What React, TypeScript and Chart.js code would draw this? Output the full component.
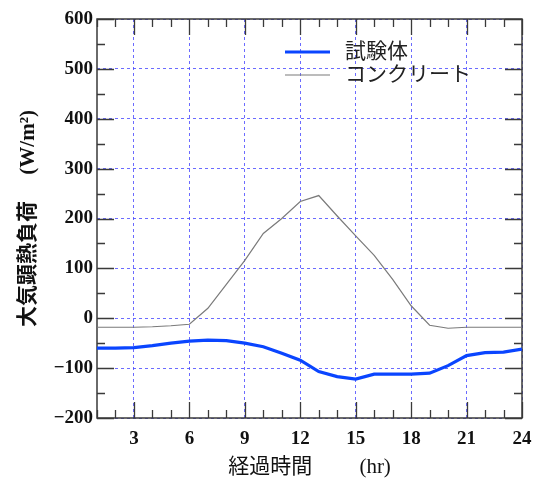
import React, { useEffect, useRef } from "react";
import { Chart, registerables } from "chart.js";

Chart.register(...registerables);

const HOURS = [1, 2, 3, 4, 5, 6, 7, 8, 9, 10, 11, 12, 13, 14, 15, 16, 17, 18, 19, 20, 21, 22, 23, 24];
const SPECIMEN = [-60, -60, -59, -55, -50, -46, -44, -45, -50, -57, -70, -84, -107, -117, -122, -112, -112, -112, -110, -95, -75, -69, -68, -62];
const CONCRETE = [-18, -18, -18, -17, -15, -12, 20, 68, 116, 170, 200, 234, 246, 205, 165, 126, 78, 25, -14, -20, -18, -18, -18, -18];
const X_TICKS = [3, 6, 9, 12, 15, 18, 21, 24];
const Y_MIN = -200;
const Y_MAX = 600;
const SERIES_NAMES = ["試験体", "コンクリート"];
const X_TITLE = "経過時間　　 (hr)";
const Y_TITLE = "大気顕熱負荷　 (W/m²)";

const BLUE = "#0a45ff";
const GRAY = "#7a7a7a";
const AXIS = "#3a3a3a";

const framePlugin = {
  id: "frameTicks",
  beforeDatasetsDraw(chart: any) {
    const { ctx, chartArea: a, scales } = chart;
    const xs = scales.x;
    const ys = scales.y;
    ctx.save();
    ctx.strokeStyle = AXIS;
    ctx.lineWidth = 1.3;
    ctx.beginPath();
    for (let v = Y_MIN; v <= Y_MAX; v += 50) {
      const y = Math.round(ys.getPixelForValue(v)) + 0.5;
      const len = v % 100 === 0 ? 17 : 8;
      ctx.moveTo(a.left, y);
      ctx.lineTo(a.left + len, y);
      ctx.moveTo(a.right, y);
      ctx.lineTo(a.right - len, y);
    }
    for (let h = 1; h <= 24; h++) {
      const x = Math.round(xs.getPixelForValue(h)) + 0.5;
      const len = h % 3 === 0 ? 16 : 8;
      ctx.moveTo(x, a.bottom);
      ctx.lineTo(x, a.bottom - len);
      ctx.moveTo(x, a.top);
      ctx.lineTo(x, a.top + len);
    }
    ctx.stroke();
    ctx.lineWidth = 1.5;
    ctx.strokeRect(a.left, a.top, a.right - a.left, a.bottom - a.top);
    ctx.restore();
  },
  afterDatasetsDraw(chart: any) {
    const { ctx } = chart;
    ctx.save();
    const items = [
      { color: BLUE, width: 3.2, y: 52 },
      { color: GRAY, width: 1.2, y: 75 },
    ];
    ctx.font = '21px "Noto Sans CJK JP"';
    ctx.textBaseline = "middle";
    ctx.textAlign = "left";
    items.forEach((it, i) => {
      ctx.strokeStyle = it.color;
      ctx.lineWidth = it.width;
      ctx.beginPath();
      ctx.moveTo(285, it.y);
      ctx.lineTo(330, it.y);
      ctx.stroke();
      ctx.fillStyle = "#222";
      ctx.fillText(SERIES_NAMES[i], 345, it.y - 2);
    });
    ctx.restore();
  },
};

export default function App() {
  const ref = useRef<HTMLCanvasElement>(null);
  useEffect(() => {
    if (!ref.current) return;
    const chart = new Chart(ref.current, {
      type: "line",
      data: {
        datasets: [
          {
            label: SERIES_NAMES[0],
            data: HOURS.map((h, i) => ({ x: h, y: SPECIMEN[i] })),
            borderColor: BLUE,
            borderWidth: 3.2,
            pointRadius: 0,
            tension: 0,
          },
          {
            label: SERIES_NAMES[1],
            data: HOURS.map((h, i) => ({ x: h, y: CONCRETE[i] })),
            borderColor: GRAY,
            borderWidth: 1.2,
            pointRadius: 0,
            tension: 0,
          },
        ],
      },
      options: {
        animation: false,
        responsive: false,
        devicePixelRatio: 1,
        layout: { padding: { top: 19, right: 17, left: 0, bottom: 0 } },
        plugins: { legend: { display: false }, tooltip: { enabled: false } },
        scales: {
          x: {
            type: "linear",
            min: 1,
            max: 24,
            afterBuildTicks: (s: any) => {
              s.ticks = X_TICKS.map((v) => ({ value: v }));
            },
            afterFit: (s: any) => {
              s.height = 64;
              s.paddingRight = 0;
              s.paddingLeft = 0;
            },
            grid: {
              color: "rgba(70,70,255,0.8)",
              lineWidth: 1,
              drawTicks: false,
            },
            border: { display: false, dash: [3, 3] },
            ticks: {
              padding: 10,
              color: "#111",
              font: { family: '"Liberation Serif"', size: 19, weight: "bold" },
              maxRotation: 0,
            },
            title: {
              display: true,
              text: X_TITLE,
              color: "#111",
              font: { family: '"Liberation Serif", "Noto Sans CJK JP"', size: 21 },
              padding: { top: 0, bottom: 2 },
            },
          },
          y: {
            min: Y_MIN,
            max: Y_MAX,
            ticks: {
              stepSize: 100,
              padding: 4,
              color: "#111",
              font: { family: '"Liberation Serif"', size: 19, weight: "bold" },
              callback: (v: any) => String(v).replace("-", "−"),
            },
            afterFit: (s: any) => {
              s.width = 97;
            },
            grid: {
              color: "rgba(70,70,255,0.8)",
              lineWidth: 1,
              drawTicks: false,
            },
            border: { display: false, dash: [3, 3] },
            title: {
              display: true,
              text: Y_TITLE,
              color: "#111",
              font: { family: '"Liberation Serif", "Noto Sans CJK JP"', size: 21, weight: "bold" },
              padding: { top: 16, bottom: 0 },
            },
          },
        },
      },
      plugins: [framePlugin],
    } as any);
    return () => chart.destroy();
  }, []);
  return (
    <canvas
      ref={ref}
      width={539}
      height={482}
      style={{ position: "fixed", left: 0, top: 0, width: 539, height: 482, background: "#fff" }}
    />
  );
}
